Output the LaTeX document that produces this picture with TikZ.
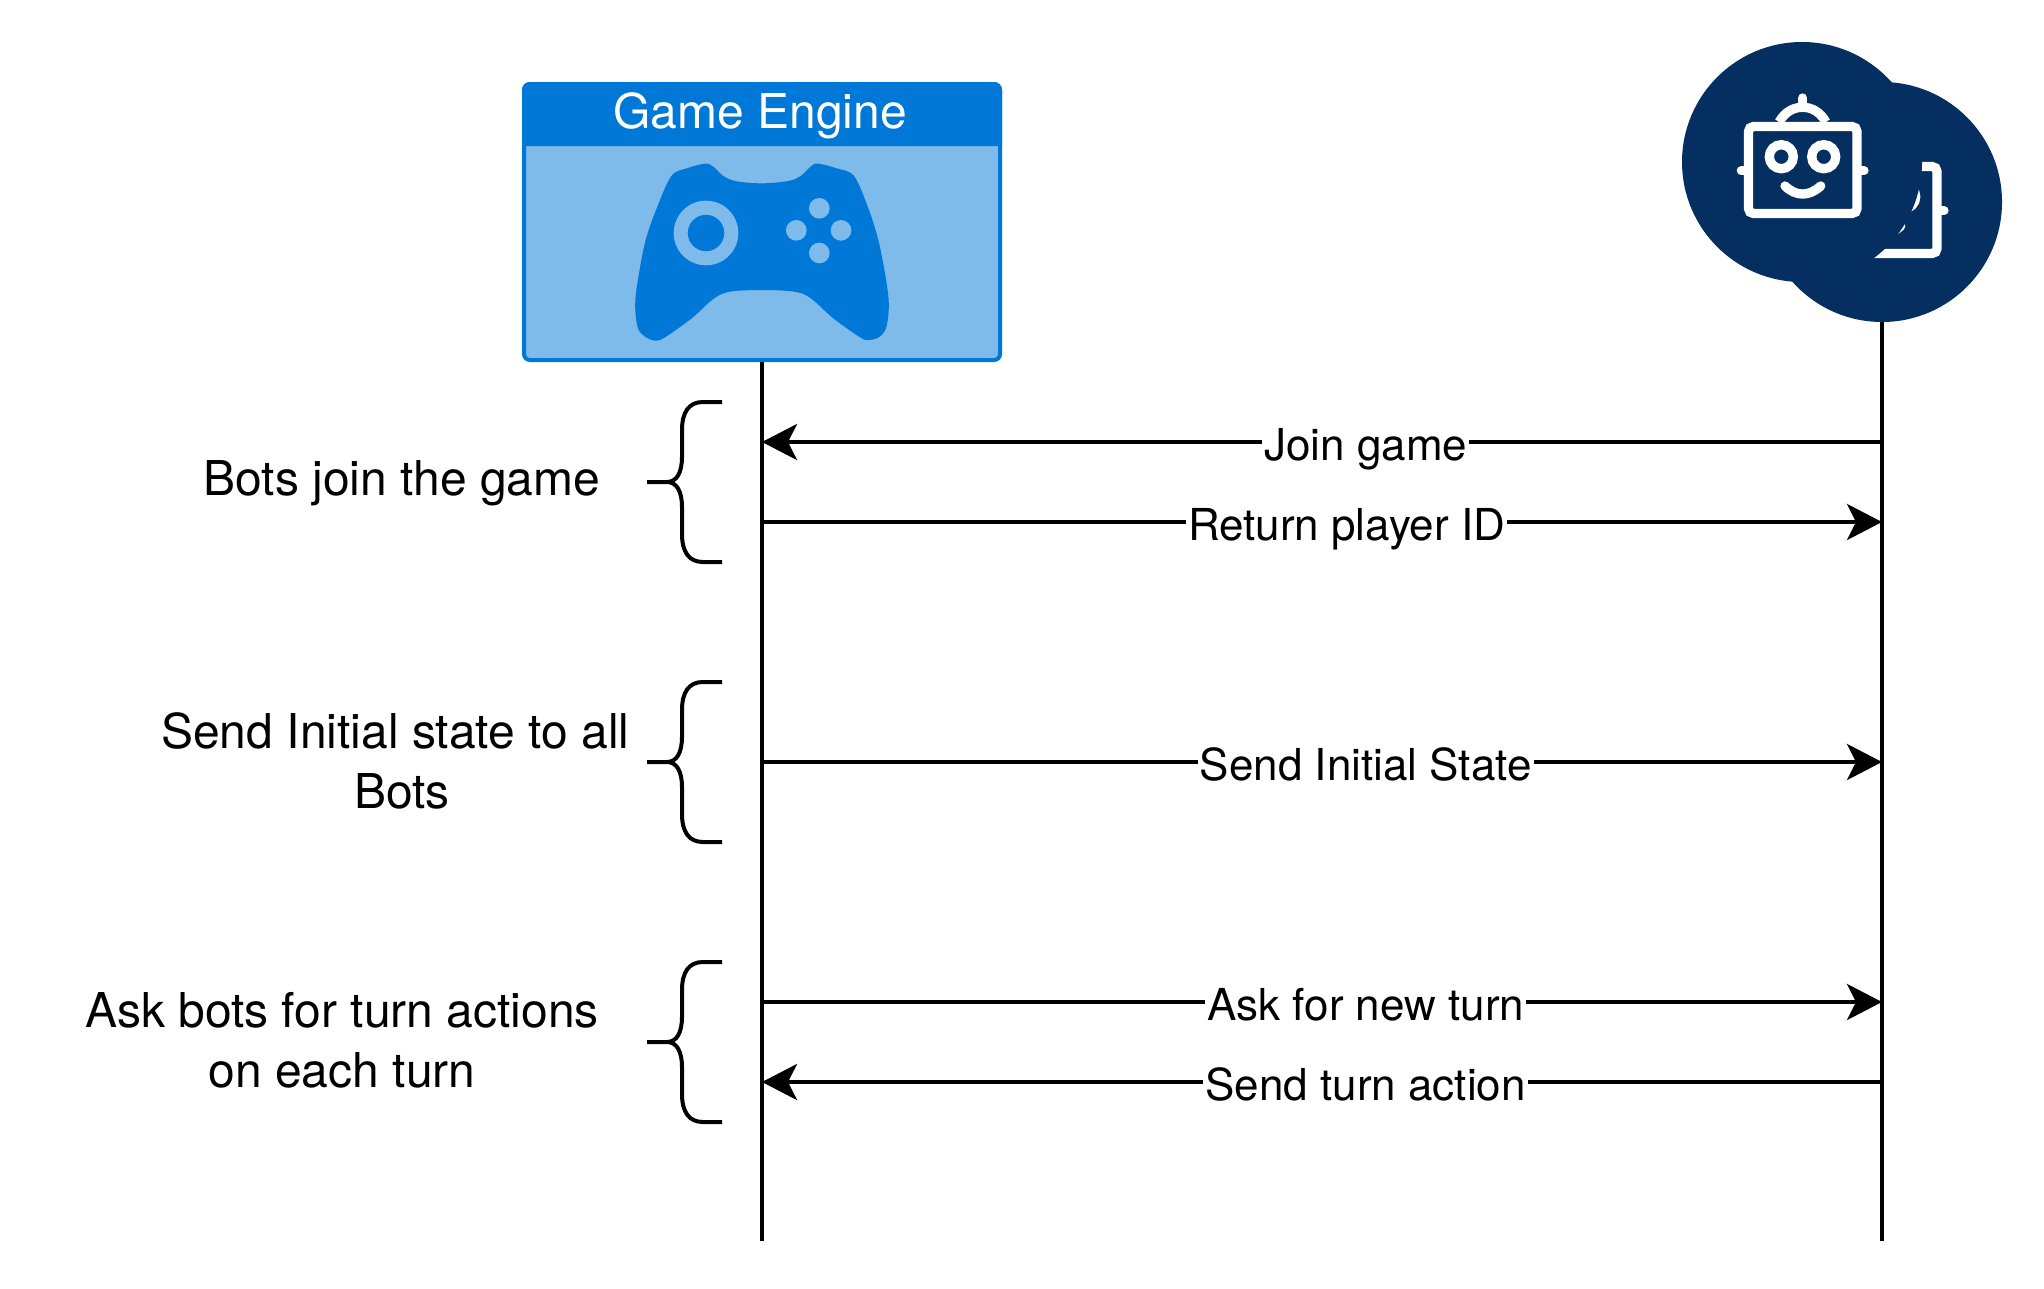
\documentclass[tikz,border=0pt]{standalone}
\usepackage{fontspec}
\setmainfont{TeX Gyre Heros}
\usetikzlibrary{arrows.meta}
\definecolor{gameblue}{HTML}{0078D7}
\definecolor{gamelight}{HTML}{7FBBEA}
\definecolor{botnavy}{HTML}{052E61}
\tikzset{
  lifeline/.style={draw=black,line width=4pt},
  msg/.style={draw=black,line width=4pt,-{Stealth[length=35pt,width=36pt,inset=9pt]}},
  msglabel/.style={fill=white,inner xsep=2pt,inner ysep=1pt,text=black,text height=32pt,text depth=10pt,yshift=-7.5pt,font=\fontsize{44}{52}\selectfont},
  sidelabel/.style={align=center,inner sep=0pt,text=black,font=\fontsize{48}{60}\selectfont},
  bracestroke/.style={draw=black,line width=4pt},
  botdisc/.style={circle,fill=botnavy,minimum size=240pt,inner sep=0pt},
  enginebox/.style={rectangle,draw=gameblue,fill=gamelight,line width=4pt,rounded corners=6pt,minimum width=476pt,minimum height=276pt,inner sep=0pt},
  enginetitle/.style={text=white,inner sep=0pt,font=\fontsize{48}{56}\selectfont},
  robotline/.style={draw=white,line width=9.3pt,line cap=round},
  pics/roboticon/.style={code={
    \draw[robotline,rounded corners=5pt] (-53.5,-35.5) rectangle (55,51.5);
    \draw[robotline,line cap=butt] (-23,-40) .. controls (-17,-50) and (-9,-54.7) .. (0.7,-54.7) .. controls (10,-54.7) and (18,-50) .. (24,-40);
    \draw[robotline] (0.7,-64) -- (0.7,-55);
    \draw[robotline] (-60.7,8.7) -- (-58,8.7);
    \draw[robotline] (60,8.7) -- (62,8.7);
    \draw[robotline] (-20.7,-5.3) circle[radius=12pt];
    \draw[robotline] (21.7,-5.3) circle[radius=12pt];
    \draw[robotline] (-17,24) .. controls (-6,34.7) and (7,34.7) .. (18.7,24);
  }}
}
\begin{document}
\begin{tikzpicture}[x=1pt,y=-1pt]
\useasboundingbox (0,0) rectangle (2044,1288);
\fill[white] (0,0) rectangle (2044,1288);

% engine
\node[enginebox] (engine) at (762,222) {};
\fill[gameblue] (522,146) [rounded corners=8pt] -- (522,82) -- (1002,82) [sharp corners] -- (1002,146) -- cycle;
\node[enginetitle] (enginename) at (760,116) {Game Engine};
\begin{scope}[shift={(510,70)},scale=1/3]
  \fill[gameblue] plot[smooth cycle,tension=.55] coordinates {(484,318) (530,295) (585,281) (610,290) (640,318) (680,334) (756,340) (835,333) (872,318) (905,287) (925,281) (980,295) (1032,318) (1075,415) (1105,510) (1125,610) (1136,690) (1134,745) (1125,782) (1105,803) (1075,810) (1050,802) (970,745) (915,695) (880,672) (835,663) (756,660) (675,663) (635,672) (600,695) (545,745) (465,802) (437,812) (410,803) (387,782) (378,745) (376,690) (387,610) (407,510) (440,415)};
  \fill[gamelight,even odd rule] (588,489) circle[radius=97pt] (588,489) circle[radius=55pt];
  \fill[gamelight] (928,415) circle[radius=31pt] (859,481) circle[radius=31pt] (993,481) circle[radius=31pt] (928,549) circle[radius=31pt];
\end{scope}

% bots
\node[botdisc] (botback) at (1882,202) {};
\pic at (1882,202) {roboticon};
\node[botdisc] (botfront) at (1802,162) {};
\pic at (1802,162) {roboticon};

% lifelines
\coordinate (engineend) at (762,1241);
\coordinate (botend) at (1882,1241);
\draw[lifeline] (engine.south) -- (engineend);
\draw[lifeline] (botback.south) -- (botend);

% anchors
\coordinate (e1) at (762,442); \coordinate (b1) at (1882,442);
\coordinate (e2) at (762,522); \coordinate (b2) at (1882,522);
\coordinate (e3) at (762,762); \coordinate (b3) at (1882,762);
\coordinate (e4) at (762,1002); \coordinate (b4) at (1882,1002);
\coordinate (e5) at (762,1082); \coordinate (b5) at (1882,1082);

\draw[msg] (b1) -- node[msglabel,pos=.461] (l1) {Join game} (e1);
\draw[msg] (e2) -- node[msglabel,pos=.522] (l2) {Return player ID} (b2);
\draw[msg] (e3) -- node[msglabel,pos=.539] (l3) {Send Initial State} (b3);
\draw[msg] (e4) -- node[msglabel,pos=.539] (l4) {Ask for new turn} (b4);
\draw[msg] (b5) -- node[msglabel,pos=.461] (l5) {Send turn action} (e5);

% braces
\foreach \m in {482,762,1042}{
  \draw[bracestroke] (722,\m-80) -- (703,\m-80) .. controls (689,\m-80) and (682,\m-70) .. (682,\m-52) -- (682,\m-25) .. controls (682,\m-10) and (677,\m) .. (667,\m) -- (647,\m);
  \draw[bracestroke] (722,\m+80) -- (703,\m+80) .. controls (689,\m+80) and (682,\m+70) .. (682,\m+52) -- (682,\m+25) .. controls (682,\m+10) and (677,\m) .. (667,\m);
}

% side labels
\node[sidelabel] (s1) at (402,483.6) {Bots join the game};
\node[sidelabel] (s2) at (402,760.7) {Send Initial state to all\hspace*{13.3pt}\\Bots};
\node[sidelabel] (s3) at (342,1040.7) {Ask bots for turn actions\\on each turn};
\end{tikzpicture}
\end{document}
